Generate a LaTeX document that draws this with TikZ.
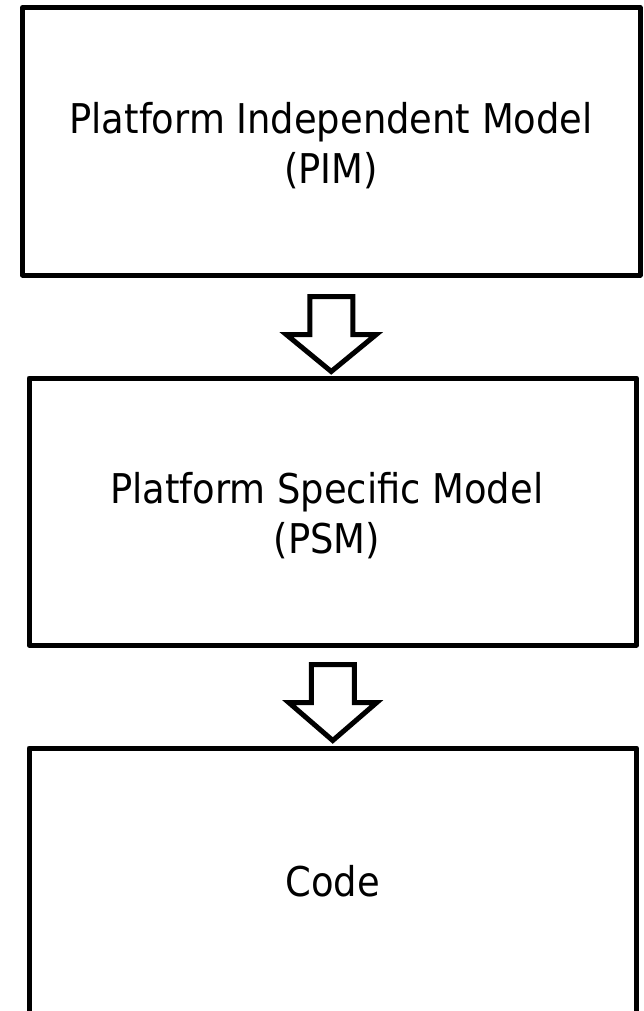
\documentclass[tikz,border=0pt]{standalone}
\usepackage{fontspec}
\setmainfont{DejaVu Sans Condensed}
\begin{document}
\begin{tikzpicture}[x=1pt,y=-1pt,
  box/.style={draw=black, line width=5pt, line join=round, inner sep=0pt,
    minimum width=#1, minimum height=267pt},
  lbl/.style={inner sep=0pt, align=center, font=\fontsize{41}{50}\selectfont},
  blockarrow/.style={draw=black, fill=white, line width=5pt, line join=miter}]
\useasboundingbox (0,0) rectangle (644,1011);
\clip (0,0) rectangle (644,1011);
\node[box=617.5pt, minimum height=267.5pt] (pim) at (331.25,141.25) {};
\node[box=607.5pt] (psm) at (332.75,511.5) {};
\node[box=607.5pt] (code) at (332.75,881.5) {};
\node[lbl] (pimtext) at ([yshift=-4pt]pim.center) {Platform Independent Model\\(PIM)};
\node[lbl] (psmtext) at ([xshift=-6pt,yshift=-4pt]psm.center) {Platform Specific Model\\(PSM)};
\node[lbl] (codetext) at (code.center) {Code};
% block arrows
\draw[blockarrow]
  ([xshift=-21.5pt,yshift=-19pt]pim.south) -- ([xshift=21.5pt,yshift=-19pt]pim.south)
  -- ([xshift=21.5pt,yshift=-57pt]pim.south) -- ([xshift=45pt,yshift=-57pt]pim.south)
  -- ([yshift=-94pt]pim.south) -- ([xshift=-45pt,yshift=-57pt]pim.south)
  -- ([xshift=-21.5pt,yshift=-57pt]pim.south) -- cycle;
\draw[blockarrow]
  ([xshift=-21.5pt,yshift=-17pt]psm.south) -- ([xshift=21.5pt,yshift=-17pt]psm.south)
  -- ([xshift=21.5pt,yshift=-55pt]psm.south) -- ([xshift=44pt,yshift=-55pt]psm.south)
  -- ([yshift=-93pt]psm.south) -- ([xshift=-44pt,yshift=-55pt]psm.south)
  -- ([xshift=-21.5pt,yshift=-55pt]psm.south) -- cycle;
\end{tikzpicture}
\end{document}
